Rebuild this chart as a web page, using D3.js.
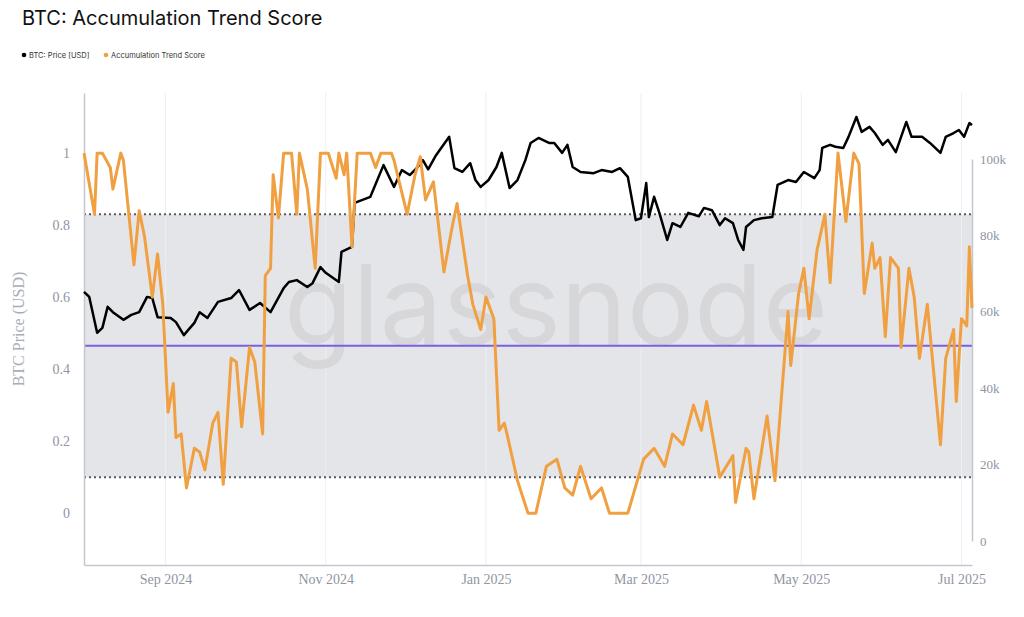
<!DOCTYPE html>
<html>
<head>
  <title>BTC: Accumulation Trend Score</title>
  <script src="https://d3js.org/d3.v7.min.js"></script>
  <style>
    body { margin: 0; background: #fff; }
  </style>
</head>
<body>
  <script>
// score series
var scoreDates = ['2024-08-01','2024-08-05','2024-08-06','2024-08-08','2024-08-11','2024-08-12','2024-08-15','2024-08-16','2024-08-20','2024-08-22','2024-08-24','2024-08-27','2024-08-29','2024-08-31','2024-09-02','2024-09-04','2024-09-05','2024-09-07','2024-09-09','2024-09-12','2024-09-14','2024-09-16','2024-09-19','2024-09-21','2024-09-23','2024-09-26','2024-09-28','2024-09-30','2024-10-03','2024-10-05','2024-10-08','2024-10-09','2024-10-11','2024-10-12','2024-10-14','2024-10-16','2024-10-19','2024-10-21','2024-10-22','2024-10-25','2024-10-28','2024-10-30','2024-11-02','2024-11-05','2024-11-06','2024-11-08','2024-11-09','2024-11-11','2024-11-13','2024-11-18','2024-11-20','2024-11-22','2024-11-26','2024-11-27','2024-12-02','2024-12-05','2024-12-07','2024-12-09','2024-12-12','2024-12-16','2024-12-19','2024-12-21','2024-12-25','2024-12-27','2024-12-30','2025-01-01','2025-01-04','2025-01-06','2025-01-08','2025-01-09','2025-01-13','2025-01-17','2025-01-20','2025-01-24','2025-01-28','2025-01-31','2025-02-03','2025-02-06','2025-02-10','2025-02-14','2025-02-17','2025-02-24','2025-03-02','2025-03-06','2025-03-10','2025-03-13','2025-03-17','2025-03-21','2025-03-24','2025-03-26','2025-03-31','2025-04-05','2025-04-06','2025-04-10','2025-04-11','2025-04-13','2025-04-18','2025-04-21','2025-04-26','2025-04-27','2025-04-30','2025-05-02','2025-05-04','2025-05-07','2025-05-10','2025-05-12','2025-05-15','2025-05-18','2025-05-21','2025-05-23','2025-05-25','2025-05-28','2025-05-29','2025-05-31','2025-06-02','2025-06-04','2025-06-07','2025-06-08','2025-06-11','2025-06-13','2025-06-15','2025-06-18','2025-06-23','2025-06-25','2025-06-28','2025-06-29','2025-07-01','2025-07-03','2025-07-04','2025-07-05'];
var scoreValues = [1,0.83,1,1,0.96,0.9,1,0.98,0.69,0.84,0.77,0.6,0.72,0.58,0.28,0.36,0.21,0.22,0.07,0.18,0.17,0.12,0.25,0.28,0.08,0.43,0.42,0.24,0.46,0.42,0.22,0.66,0.68,0.94,0.82,1,1,0.83,1,0.9,0.68,1,1,0.93,1,0.94,1,0.74,1,1,0.96,1,1,0.98,0.83,0.94,0.99,0.87,0.92,0.67,0.79,0.86,0.66,0.58,0.51,0.6,0.54,0.23,0.25,0.22,0.09,0,0,0.13,0.15,0.07,0.05,0.13,0.04,0.07,0,0,0.15,0.18,0.13,0.22,0.19,0.3,0.23,0.31,0.1,0.16,0.03,0.18,0.17,0.04,0.27,0.09,0.56,0.41,0.61,0.68,0.54,0.73,0.83,0.64,1,0.81,1,0.97,0.61,0.75,0.68,0.71,0.49,0.71,0.68,0.46,0.68,0.6,0.43,0.58,0.19,0.43,0.51,0.31,0.54,0.52,0.74,0.57];

// BTC price series, thousands of USD
var priceDates = ['2024-08-01','2024-08-03','2024-08-06','2024-08-08','2024-08-10','2024-08-12','2024-08-16','2024-08-19','2024-08-22','2024-08-25','2024-08-27','2024-08-29','2024-09-03','2024-09-05','2024-09-08','2024-09-12','2024-09-14','2024-09-17','2024-09-21','2024-09-26','2024-09-29','2024-10-03','2024-10-07','2024-10-11','2024-10-16','2024-10-18','2024-10-21','2024-10-25','2024-10-27','2024-10-30','2024-11-01','2024-11-06','2024-11-07','2024-11-11','2024-11-12','2024-11-15','2024-11-18','2024-11-23','2024-11-27','2024-11-30','2024-12-03','2024-12-06','2024-12-08','2024-12-10','2024-12-13','2024-12-18','2024-12-20','2024-12-23','2024-12-26','2024-12-28','2024-12-30','2025-01-02','2025-01-05','2025-01-07','2025-01-10','2025-01-13','2025-01-16','2025-01-18','2025-01-21','2025-01-25','2025-01-27','2025-01-30','2025-02-01','2025-02-03','2025-02-06','2025-02-11','2025-02-14','2025-02-18','2025-02-21','2025-02-24','2025-02-27','2025-03-01','2025-03-03','2025-03-04','2025-03-06','2025-03-08','2025-03-11','2025-03-13','2025-03-16','2025-03-19','2025-03-23','2025-03-25','2025-03-28','2025-03-31','2025-04-02','2025-04-05','2025-04-07','2025-04-09','2025-04-10','2025-04-13','2025-04-16','2025-04-20','2025-04-22','2025-04-26','2025-04-29','2025-05-02','2025-05-06','2025-05-08','2025-05-09','2025-05-12','2025-05-14','2025-05-17','2025-05-19','2025-05-22','2025-05-24','2025-05-27','2025-05-29','2025-06-01','2025-06-03','2025-06-06','2025-06-10','2025-06-12','2025-06-16','2025-06-19','2025-06-23','2025-06-25','2025-06-28','2025-06-30','2025-07-02','2025-07-04','2025-07-05'];
var priceValues = [65.2,63.9,54.5,55.8,61.3,59.9,57.9,59.2,59.9,63.9,63.6,58.6,58.4,57.3,53.9,57.1,59.9,58.4,62.6,63.6,65.7,60.5,62.3,59.9,66.2,67.8,68.3,66.5,67.5,71.7,70.2,67.8,75.7,77.0,88.5,89.3,90.1,98.4,92.7,97.1,95.8,97.9,99.7,97.3,101,105.8,97.6,96.6,98.9,94.5,92.7,94.5,97.9,101.6,92.4,94.5,99.7,104.2,105.5,104.2,104.2,101.6,103.7,97.9,96.6,96.3,97.1,96.6,97.6,95.3,84.0,84.5,93.7,84.8,90.1,85.9,78.8,83.2,82.2,85.9,85.0,87.2,86.6,82.7,84.5,83.2,78.8,76.2,82.2,84.0,84.5,84.8,93.2,94.5,94.0,96.6,95.0,97.1,102.9,103.7,103.2,102.9,105.8,111,107.1,108.4,106.8,103.7,105,101.8,109.7,105.8,105.8,104.2,101.6,105.8,106.8,107.6,105.8,109.4,108.9];

var upperBand = 0.83, lowerBand = 0.1, midLine = 0.465;
var leftTicks = [0, 0.2, 0.4, 0.6, 0.8, 1];
var rightTicks = [0, 20, 40, 60, 80, 100];
var monthTicks = ['2024-09-01','2024-11-01','2025-01-01','2025-03-01','2025-05-01','2025-07-01'];

var width = 1024, height = 617;
var plotLeft = 84, plotRight = 972, plotTop = 93, plotBottom = 565;
var parse = d3.timeParse('%Y-%m-%d');

var svg = d3.select('body').append('svg')
  .attr('width', width).attr('height', height)
  .style('font-family', 'Inter, "Noto Sans", sans-serif');

var x = d3.scaleTime()
  .domain([parse('2024-08-01'), parse('2025-07-05')])
  .range([plotLeft, plotRight]);
var yScore = d3.scaleLinear().domain([-0.144, 1.167]).range([plotBottom, plotTop]);
var yPrice = d3.scaleLinear().domain([0, 100]).range([541, 159]);

// title + legend
svg.append('text').attr('x', 22).attr('y', 25).attr('font-size', 20).attr('fill', '#111')
  .text('BTC: Accumulation Trend Score');
var legend = [['BTC: Price [USD]', '#000'], ['Accumulation Trend Score', '#f0a040']];
var lx = [24, 106];
legend.forEach(function(l, i) {
  svg.append('circle').attr('cx', lx[i]).attr('cy', 55).attr('r', 2.3).attr('fill', l[1]);
  svg.append('text').attr('x', lx[i] + 5).attr('y', 58).attr('font-size', 7.5).attr('fill', '#333').text(l[0]);
});

// band
svg.append('rect').attr('x', plotLeft).attr('width', plotRight - plotLeft)
  .attr('y', yScore(upperBand)).attr('height', yScore(lowerBand) - yScore(upperBand))
  .attr('fill', '#e4e5e9');

// grid
svg.append('g').selectAll('line').data(monthTicks).enter().append('line')
  .attr('x1', function(d) { return x(parse(d)); }).attr('x2', function(d) { return x(parse(d)); })
  .attr('y1', plotTop).attr('y2', plotBottom).attr('stroke', '#eeeff3').attr('stroke-width', 1);

// watermark
svg.append('text').attr('x', 556).attr('y', 345).attr('text-anchor', 'middle')
  .attr('font-size', 112).attr('fill', '#d3d3d6').attr('opacity', 0.75)
  .style('font-family', 'Inter, "Noto Sans", sans-serif').text('glassnode');

[upperBand, lowerBand].forEach(function(v) {
  svg.append('line').attr('x1', plotLeft).attr('x2', plotRight)
    .attr('y1', yScore(v)).attr('y2', yScore(v))
    .attr('stroke', '#555a66').attr('stroke-width', 2).attr('stroke-dasharray', '2,3');
});
svg.append('line').attr('x1', plotLeft).attr('x2', plotRight)
  .attr('y1', yScore(midLine)).attr('y2', yScore(midLine))
  .attr('stroke', '#7b5fe0').attr('stroke-width', 2);

// axes
var axisColor = '#c4c7d0', tickColor = '#8f95a3';
var xAxis = svg.append('g').attr('transform', 'translate(0,' + plotBottom + ')')
  .call(d3.axisBottom(x).tickValues(monthTicks.map(parse)).tickFormat(d3.timeFormat('%b %Y')).tickSize(0).tickPadding(9));
var yl = svg.append('g').attr('transform', 'translate(' + plotLeft + ',0)')
  .call(d3.axisLeft(yScore).tickValues(leftTicks).tickFormat(d3.format('')).tickSize(0).tickPadding(14));
var yr = svg.append('g').attr('transform', 'translate(' + plotRight + ',0)')
  .call(d3.axisRight(yPrice).tickValues(rightTicks).tickFormat(function(d) { return d ? d + 'k' : '0'; }).tickSize(0).tickPadding(8));
[xAxis, yl, yr].forEach(function(a) {
  a.select('.domain').attr('stroke', axisColor).attr('stroke-width', 1.5);
  a.selectAll('text').attr('fill', tickColor).attr('font-size', 14)
    .style('font-family', '"Liberation Serif", "DejaVu Serif", serif');
});
yr.selectAll('text').attr('font-size', 13);

svg.append('text').attr('transform', 'translate(24,329) rotate(-90)')
  .attr('text-anchor', 'middle').attr('font-size', 16).attr('fill', '#a8adb9')
  .style('font-family', '"Liberation Serif", "DejaVu Serif", serif')
  .text('BTC Price (USD)');

// lines
var priceLine = d3.line()
  .x(function(d, i) { return x(parse(priceDates[i])); })
  .y(function(d) { return yPrice(d); });
svg.append('path').datum(priceValues).attr('d', priceLine)
  .attr('fill', 'none').attr('stroke', '#000').attr('stroke-width', 2.5).attr('stroke-linejoin', 'round');

var scoreLine = d3.line()
  .x(function(d, i) { return x(parse(scoreDates[i])); })
  .y(function(d) { return yScore(d); });
svg.append('path').datum(scoreValues).attr('d', scoreLine)
  .attr('fill', 'none').attr('stroke', '#f0a040').attr('stroke-width', 3).attr('stroke-linejoin', 'round');
  </script>
</body>
</html>
